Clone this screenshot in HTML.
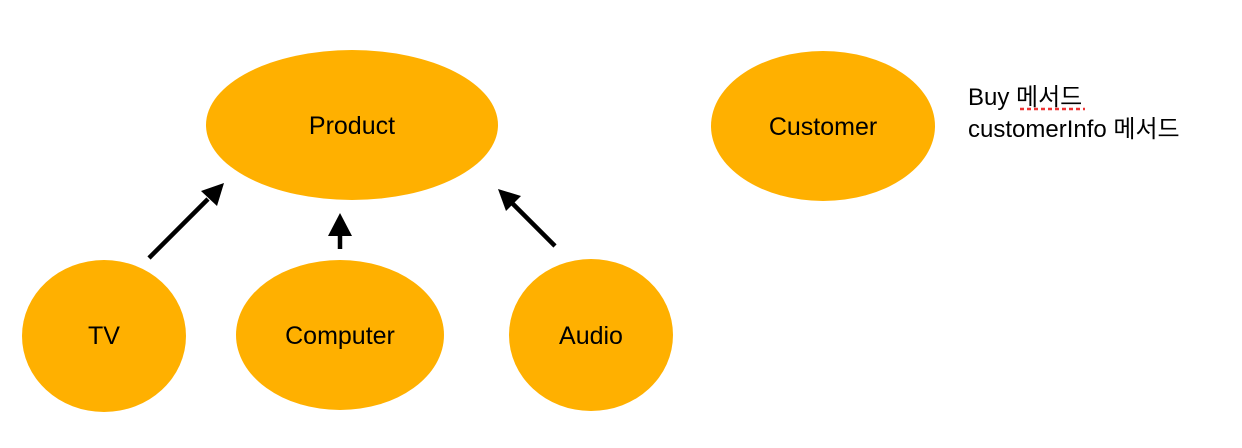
<!DOCTYPE html>
<html><head><meta charset="utf-8"><style>
html,body{margin:0;padding:0;background:#fff;width:1242px;height:448px;overflow:hidden}
</style></head><body>
<svg width="1242" height="448" xmlns="http://www.w3.org/2000/svg" font-family="Liberation Sans, 'Noto Sans CJK KR', sans-serif">
<g fill="#FFB000">
<ellipse cx="352" cy="125" rx="146" ry="75"/>
<ellipse cx="823" cy="126" rx="112" ry="75"/>
<ellipse cx="104" cy="336" rx="82" ry="76"/>
<ellipse cx="340" cy="335" rx="104" ry="75"/>
<ellipse cx="591" cy="335" rx="82" ry="76"/>
</g>
<g font-size="25" text-anchor="middle" fill="#000">
<text x="352" y="134">Product</text>
<text x="823" y="135">Customer</text>
<text x="104" y="344">TV</text>
<text x="340" y="344">Computer</text>
<text x="591" y="344">Audio</text>
</g>
<g stroke="#000" stroke-width="4.5" fill="none">
<line x1="149" y1="258" x2="208" y2="199"/>
<line x1="340" y1="249" x2="340" y2="230"/>
<line x1="555" y1="246" x2="512" y2="203"/>
</g>
<g fill="#000">
<polygon points="224,183 217,206 201,191"/>
<polygon points="340,213 328,236 352,236"/>
<polygon points="498,189 521,196 506,211"/>
</g>
<g font-size="24" fill="#000">
<text x="968" y="105">Buy 메서드</text>
<text x="968" y="137">customerInfo 메서드</text>
</g>
<line x1="1020" y1="109" x2="1085" y2="109" stroke="#e33" stroke-width="2.5" stroke-dasharray="4,3"/>
</svg>
</body></html>
